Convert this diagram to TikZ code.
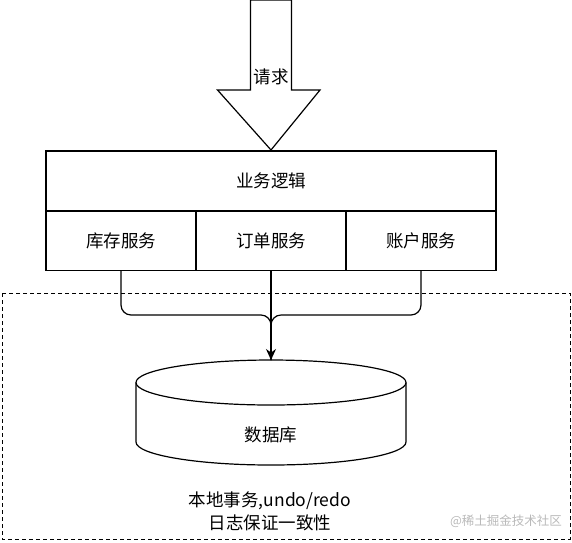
\documentclass[tikz,border=0pt]{standalone}
\usepackage{fontspec}
\setmainfont{Noto Sans CJK SC}
\usetikzlibrary{arrows.meta}
\begin{document}
\begin{tikzpicture}[x=1pt,y=-1pt,
  every node/.style={font=\fontsize{17.5}{21}\selectfont},
  ln/.style={line width=1.2pt},
  cell/.style={draw,ln,minimum width=150pt,minimum height=59.5pt,inner sep=0pt,anchor=center},
  conn/.style={ln,rounded corners=10pt},
  lbl/.style={inner sep=0pt}]
\useasboundingbox (0,0) rectangle (572,542);
% dashed region
\draw[line width=1pt,dash pattern=on 4pt off 3pt] (2,293) rectangle (570,539);
% request arrow
\draw[ln,fill=white] (250.5,0) -- (291.5,0) -- (291.5,90) -- (320,90) -- (271,150) -- (217.5,90) -- (250.5,90) -- cycle;
\node[lbl] (req) at (271,77) {请求};
% business logic
\node[draw,ln,minimum width=450pt,minimum height=60pt,inner sep=0pt] (lg) at (271,181) {业务逻辑};
\node[cell] (s1) at (121,240.5) {库存服务};
\node[cell] (s2) at (271,240.5) {订单服务};
\node[cell] (s3) at (421,240.5) {账户服务};
% database cylinder
\coordinate (dbtop) at (271,360);
\draw[ln,fill=white] (136,382.5) -- (136,442) arc[start angle=180,end angle=360,x radius=135,y radius=-23] -- (406,382.5);
\draw[ln,fill=white] (271,382.5) ellipse[x radius=135,y radius=22.5];
\node[lbl] (db) at (271,435) {数据库};
% connectors
\draw[conn] (s1.south) -- (121,315) -- (271,315) -- (dbtop);
\draw[conn] (s3.south) -- (421,315) -- (271,315) -- (dbtop);
\draw[ln,-{Stealth[length=11pt,width=10pt]}] (s2.south) -- (dbtop);
% texts
\node[lbl] (t1) at (270,501) {本地事务,undo/redo};
\node[lbl] (t2) at (270,523) {日志保证一致性};
\node[lbl,text=gray!55,font=\fontsize{12.5}{14}\selectfont] (wm) at (506,521) {@稀土掘金技术社区};
\end{tikzpicture}
\end{document}
